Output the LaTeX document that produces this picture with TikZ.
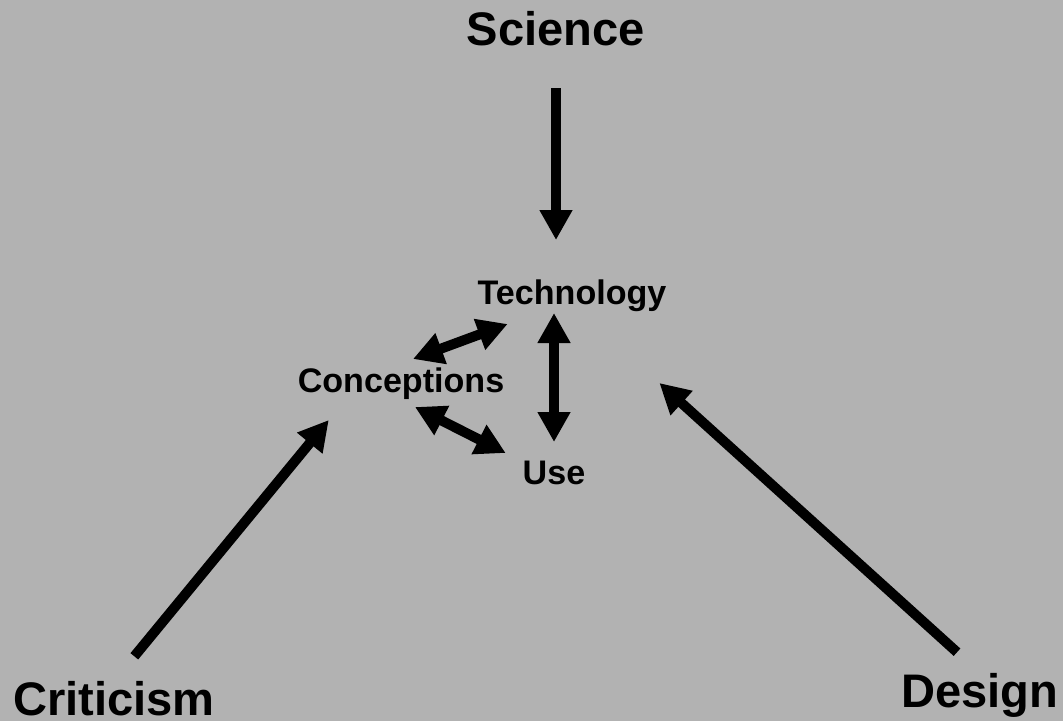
\documentclass[tikz,border=0pt]{standalone}
\usepackage{fontspec}
\setmainfont{Liberation Sans}
\usetikzlibrary{arrows.meta,positioning}
\definecolor{bggray}{RGB}{178,178,178}

\begin{document}
\begin{tikzpicture}[>={Triangle[length=0.30cm,width=0.31cm]},
  every node/.style={inner sep=0pt, outer sep=0pt, anchor=base},
  big/.style={font=\fontsize{13.4pt}{16pt}\selectfont\bfseries, text height=0.34cm, text depth=0cm},
  small/.style={font=\fontsize{9.7pt}{12pt}\selectfont\bfseries, text height=0.25cm, text depth=0.07cm},
  link/.style={line width=0.1cm}]
  \useasboundingbox (0,0) rectangle (10.63,-7.21);
  \fill[bggray] (0,0) rectangle (10.63,-7.21);

  \node[big] (sci) at (5.56,-0.45) {Science};
  \node[small] (tech) at (5.72,-3.04) {Technology};
  \node[small] (concept) at (4.01,-3.92) {Conceptions};
  \node[small] (use) at (5.54,-4.84) {Use};
  \node[big] (crit) at (1.14,-7.15) {Criticism};
  \node[big] (design) at (9.80,-7.07) {Design};

  \draw[link, ->, shorten <=0.43cm, shorten >=0.39cm] (sci.south) -- (sci.south |- tech.north);
  \draw[link, <->, shorten <=0.02cm, shorten >=0.17cm] (use.north |- tech.south) -- (use.north);
  \draw[link, <->] ([shift={(0.12,0.08)}]concept.north) -- ([shift={(0.30,-0.13)}]tech.south west);
  \draw[link, <->] ([shift={(0.14,-0.08)}]concept.south) -- ([shift={(-0.17,0.22)}]use.west);
  \draw[link, ->, shorten <=0.32cm] (crit.north) -- ([shift={(0.31,-0.21)}]concept.south west);
  \draw[link, ->, shorten <=0.31cm] (design.north) -- ([shift={(-0.07,-0.72)}]tech.south east);
\end{tikzpicture}
\end{document}
